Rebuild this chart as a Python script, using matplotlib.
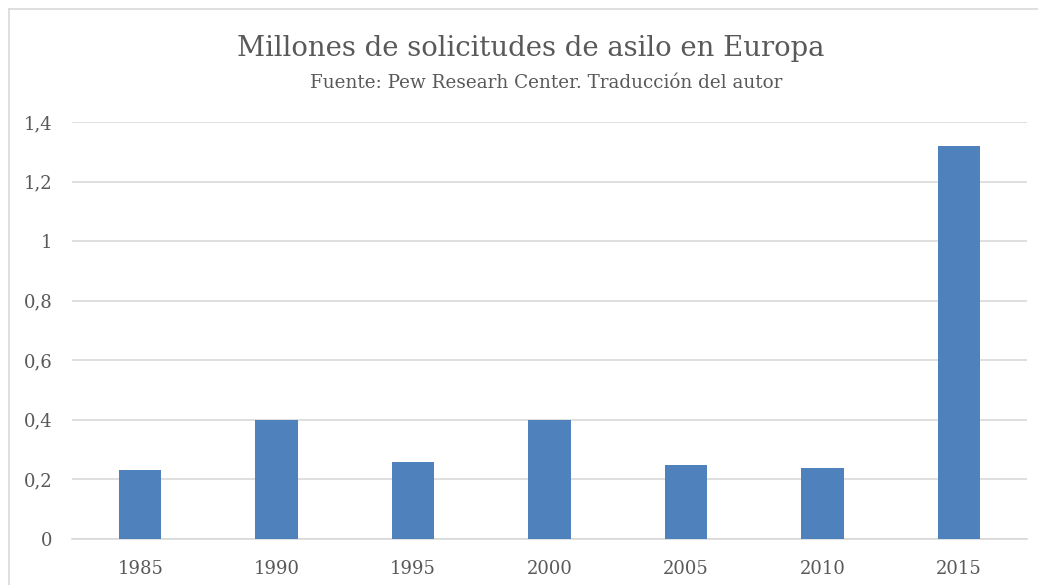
import matplotlib.pyplot as plt
from matplotlib.lines import Line2D

# datos
years = ["1985", "1990", "1995", "2000", "2005", "2010", "2015"]
solicitudes = [0.23, 0.40, 0.26, 0.40, 0.25, 0.24, 1.32]
y_ticks = [0, 0.2, 0.4, 0.6, 0.8, 1.0, 1.2, 1.4]
y_labels = ["0", "0,2", "0,4", "0,6", "0,8", "1", "1,2", "1,4"]

W, H = 1038, 585
plt.rcParams['font.family'] = ['DejaVu Serif', 'Liberation Serif']
text_color = "#595959"

fig = plt.figure(figsize=(W / 100, H / 100), dpi=100)
ax = fig.add_axes([72 / W, 1 - 539 / H, (1027 - 72) / W, (539 - 122) / H])

x = list(range(len(years)))
ax.bar(x, solicitudes, width=0.31, color="#4F81BD", zorder=3)

ax.set_xlim(-0.5, len(years) - 0.5)
ax.set_ylim(0, 1.4)
ax.set_xticks(x)
ax.set_xticklabels(years)
ax.set_yticks(y_ticks)
ax.set_yticklabels(y_labels)
ax.tick_params(length=0, labelsize=13, colors=text_color)
ax.tick_params(axis="x", pad=15)
ax.tick_params(axis="y", pad=14)

ax.grid(axis="y", color="#D9D9D9", linewidth=1.2, zorder=0)
for s in ["top", "right", "left"]:
    ax.spines[s].set_visible(False)
ax.spines["bottom"].set_color("#D9D9D9")
ax.spines["bottom"].set_linewidth(1.2)

# titulo
fig.text(531 / W, 1 - 48 / H, "Millones de solicitudes de asilo en Europa",
         ha="center", va="center", fontsize=19.8, color=text_color)
fig.text(546 / W, 1 - 83 / H, "Fuente: Pew Researh Center. Traducción del autor",
         ha="center", va="center", fontsize=13.2, color=text_color)

# marco del grafico
fig.add_artist(Line2D([9 / W, 9 / W], [0, 1 - 9 / H], transform=fig.transFigure,
                      color="#D9D9D9", linewidth=1.2))
fig.add_artist(Line2D([9 / W, 1], [1 - 9 / H, 1 - 9 / H], transform=fig.transFigure,
                      color="#D9D9D9", linewidth=1.2))

fig.savefig("out.png", dpi=100)
